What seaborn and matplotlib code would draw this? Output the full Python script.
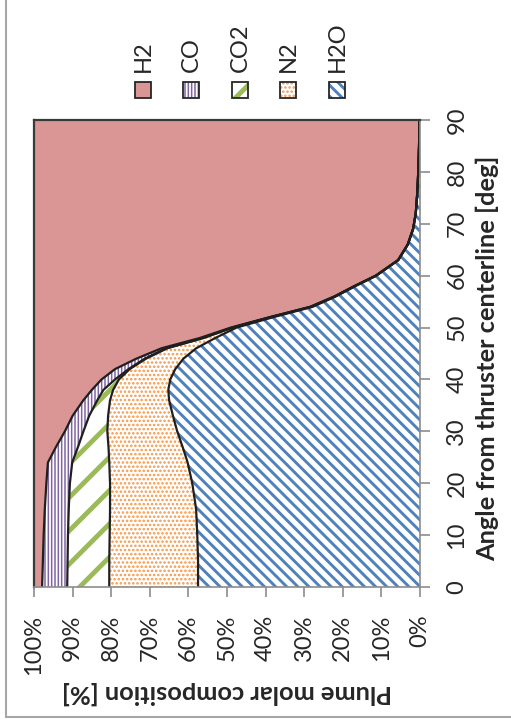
import numpy as np
import seaborn as sns
import matplotlib.pyplot as plt
from matplotlib.patches import Rectangle
from matplotlib.lines import Line2D

# plume composition vs angle (values in %)
angle = [0, 5, 10, 15, 20, 24, 27, 30, 33, 36, 38, 40, 42, 44, 46, 48, 50,
         52, 54, 56, 58, 60, 63, 66, 69, 72, 76, 80, 85, 90]
h2o = [57.5, 57.5, 57.7, 58.0, 59.0, 60.2, 61.5, 62.9, 64.0, 65.0, 65.2, 64.7,
       63.4, 61.3, 58.0, 53.0, 47.5, 38.0, 27.8, 21.8, 16.7, 11.3, 5.6, 3.15,
       1.78, 1.1, 0.7, 0.45, 0.25, 0.1]
n2 = [23.0, 23.0, 22.7, 22.3, 21.3, 20.3, 19.2, 18.1, 16.8, 15.3, 14.3, 13.3,
      11.8, 9.7, 7.5, 3.0, 1.0, 0.7, 0.4, 0.2, 0.2, 0.1, 0.05, 0.02, 0.01,
      0, 0, 0, 0, 0]
co2 = [10.9, 10.8, 10.8, 10.7, 10.4, 9.6, 7.9, 6.2, 4.9, 3.3, 2.5, 1.0, 0.3,
       0.3, 0.3, 0.2, 0.1, 0.1, 0.1, 0.1, 0.05, 0.05, 0.03, 0.01, 0, 0, 0, 0,
       0, 0]
co = [6.5, 6.4, 6.3, 6.2, 6.1, 6.3, 5.7, 4.8, 4.3, 3.6, 3.0, 3.5, 3.5, 2.2,
      1.2, 0.8, 0.4, 0.2, 0.2, 0.1, 0.05, 0.05, 0.02, 0.02, 0.01, 0, 0, 0, 0, 0]
h2 = [2.1, 2.3, 2.5, 2.8, 3.2, 3.6, 5.7, 8.0, 10.0, 12.8, 15.0, 17.5, 21.0,
      26.5, 33.0, 43.0, 51.0, 61.0, 71.5, 77.8, 83.0, 88.5, 94.3, 96.8, 98.2,
      98.9, 99.3, 99.55, 99.75, 99.9]

species = ["H2O", "N2", "CO2", "CO", "H2"]
colors = ["#4F81BD", "#F79646", "#9BBB59", "#8064A2", "#D99694"]
hatches = ["\\\\\\", "....", "/", "|||||", None]
hatch_lw = [2.1, 1.2, 3.5, 1.1, 1.0]

sns.set_style("white")
plt.rcParams["font.family"] = ["Lato", "DejaVu Sans"]

W, H = 511, 725
fig = plt.figure(figsize=(W / 100, H / 100), dpi=100)
ax = fig.add_axes([34 / W, 1 - 587 / H, 386 / W, 467 / H])

stack = np.cumsum(np.array([h2o, n2, co2, co, h2]), axis=0)
lower = np.zeros(len(angle))
for i, name in enumerate(species):
    upper = stack[i]
    if hatches[i] is None:
        ax.fill_betweenx(angle, lower, upper, facecolor=colors[i], linewidth=0)
    else:
        with plt.rc_context({"hatch.linewidth": hatch_lw[i]}):
            ax.fill_betweenx(angle, lower, upper, facecolor="white",
                             edgecolor=colors[i], hatch=hatches[i], linewidth=0)
    lower = upper

# black outlines between the layers
for i in range(4):
    sns.lineplot(x=stack[i], y=angle, orient="y", sort=False, estimator=None,
                 color="#1f1f1f", lw=1.6, ax=ax)

ax.set_xlim(100, 0)
ax.set_ylim(0, 90)
ax.set_xticks(range(0, 101, 10))
ax.set_xticklabels([f"{v}%" for v in range(0, 101, 10)], rotation=90, fontsize=17)
ax.yaxis.tick_right()
ax.set_yticks(range(0, 91, 10))
ax.set_yticklabels([str(v) for v in range(0, 91, 10)], rotation=90, fontsize=17)
for lab in ax.get_yticklabels():
    lab.set_va("center")
ax.tick_params(axis="x", direction="out", length=7, width=1.2, color="#8c8c8c",
               pad=13, bottom=True)
ax.tick_params(axis="y", direction="out", length=7, width=1.2, color="#8c8c8c",
               pad=12, right=True, left=False)

for s in ["left", "top"]:
    ax.spines[s].set_color("#3a3a3a")
    ax.spines[s].set_linewidth(1.6)
for s in ["right", "bottom"]:
    ax.spines[s].set_color("#8c8c8c")
    ax.spines[s].set_linewidth(1.2)

ax.set_xlabel("Plume molar composition [%]", rotation=180, fontsize=18.3,
              fontweight="bold")
ax.xaxis.set_label_coords(0.5, -0.227)
ax.xaxis.label.set_va("center")
ax.yaxis.set_label_position("right")
ax.set_ylabel("Angle from thruster centerline [deg]", rotation=90, fontsize=18.3,
              fontweight="bold")
ax.yaxis.set_label_coords(1.176, 0.49)
ax.yaxis.label.set_va("center")

# legend drawn by hand, rotated like the rest of the chart
leg_names = ["H2", "CO", "CO2", "N2", "H2O"]
leg_x = [143, 191, 240, 288, 337]
for name, cx in zip(leg_names, leg_x):
    i = species.index(name)
    box = ((cx - 8) / W, 1 - 98 / H)
    bw, bh = 16 / W, 16 / H
    if hatches[i] is None:
        fig.add_artist(Rectangle(box, bw, bh, transform=fig.transFigure,
                                 facecolor=colors[i], linewidth=0))
    else:
        with plt.rc_context({"hatch.linewidth": hatch_lw[i]}):
            fig.add_artist(Rectangle(box, bw, bh, transform=fig.transFigure,
                                     facecolor="white", edgecolor=colors[i],
                                     hatch=hatches[i], linewidth=0))
    fig.add_artist(Rectangle(box, bw, bh, transform=fig.transFigure,
                             fill=False, edgecolor="#262626", linewidth=1.3))
    fig.text(cx / W, 1 - 72 / H, name, rotation=90, ha="center", va="bottom",
             fontsize=17)

# chart frame (left and bottom edges)
fig.add_artist(Line2D([6 / W, 6 / W], [1 - 717 / H, 1], transform=fig.transFigure,
                      color="#a6a6a6", lw=1.5))
fig.add_artist(Line2D([6 / W, 1], [1 - 717 / H, 1 - 717 / H],
                      transform=fig.transFigure, color="#a6a6a6", lw=1.5))

fig.savefig("out.png", dpi=100)
